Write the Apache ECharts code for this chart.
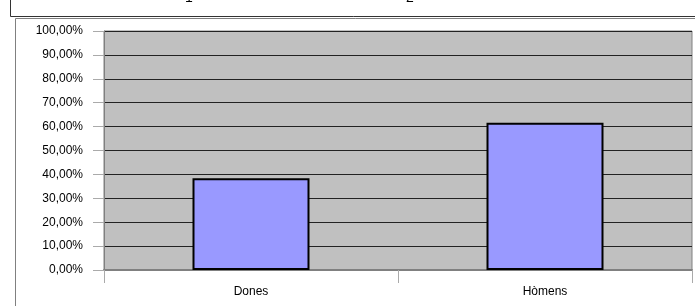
<!DOCTYPE html>
<html>
<head>
<meta charset="utf-8">
<script src="https://cdn.jsdelivr.net/npm/echarts@6/dist/echarts.min.js"></script>
<style>
  html, body { margin: 0; padding: 0; background: #fff; }
  #myChart { width: 695px; height: 306px; }
</style>
</head>
<body>
<div id="myChart"></div>
<script>
// dades
var categories = ['Dones', 'Hòmens'];
var percentValues = [0.384, 0.616];
var yTicks = [0, 0.1, 0.2, 0.3, 0.4, 0.5, 0.6, 0.7, 0.8, 0.9, 1];
var topFragments = ['1', '2']; // restes del títol tallat

var myChart = echarts.init(document.getElementById('myChart'));

function pct(v) {
    return (v * 100).toFixed(2).replace('.', ',') + '%';
}

var option = {
    animation: false,
    textStyle: { fontFamily: 'Liberation Sans, Arial, sans-serif' },
    grid: {
        left: 104, right: 3, top: 31, bottom: 36,
        show: true,
        backgroundColor: '#c0c0c0',
        borderColor: '#808080',
        borderWidth: 1
    },
    graphic: [
        // caixa del títol, tallada a dalt
        { type: 'rect', left: 8, top: -10, shape: { width: 700, height: 24 },
          style: { fill: 'none', stroke: '#333', lineWidth: 1 } },
        // vora del gràfic
        { type: 'rect', left: 13, top: 16, shape: { width: 700, height: 300 },
          style: { fill: 'none', stroke: '#808080', lineWidth: 1 } },
        { type: 'text', left: 185, top: -9,
          style: { text: topFragments[0], fontSize: 14, fill: '#000', fontFamily: 'Liberation Sans' } },
        { type: 'text', left: 406, top: -9,
          style: { text: topFragments[1], fontSize: 14, fill: '#000', fontFamily: 'Liberation Sans' } }
    ],
    xAxis: {
        type: 'category',
        data: categories,
        axisLine: { show: true, lineStyle: { color: '#808080', width: 2 } },
        axisTick: { show: true, interval: 0, length: 13, lineStyle: { color: '#aaa' } },
        axisLabel: { color: '#000', fontSize: 12, margin: 16 }
    },
    yAxis: {
        type: 'value',
        min: yTicks[0],
        max: yTicks[yTicks.length - 1],
        interval: 0.1,
        axisLine: { show: true, lineStyle: { color: '#808080' } },
        axisTick: { show: true, length: 11, lineStyle: { color: '#aaa' } },
        axisLabel: { color: '#000', fontSize: 12, margin: 21, formatter: pct },
        splitLine: { show: true, lineStyle: { color: '#222', width: 1 } }
    },
    series: [{
        type: 'bar',
        data: percentValues,
        barWidth: 117,
        itemStyle: { color: '#9999ff', borderColor: '#000', borderWidth: 2 }
    }]
};

myChart.setOption(option);
window.addEventListener('resize', function () { myChart.resize(); });
</script>
</body>
</html>
